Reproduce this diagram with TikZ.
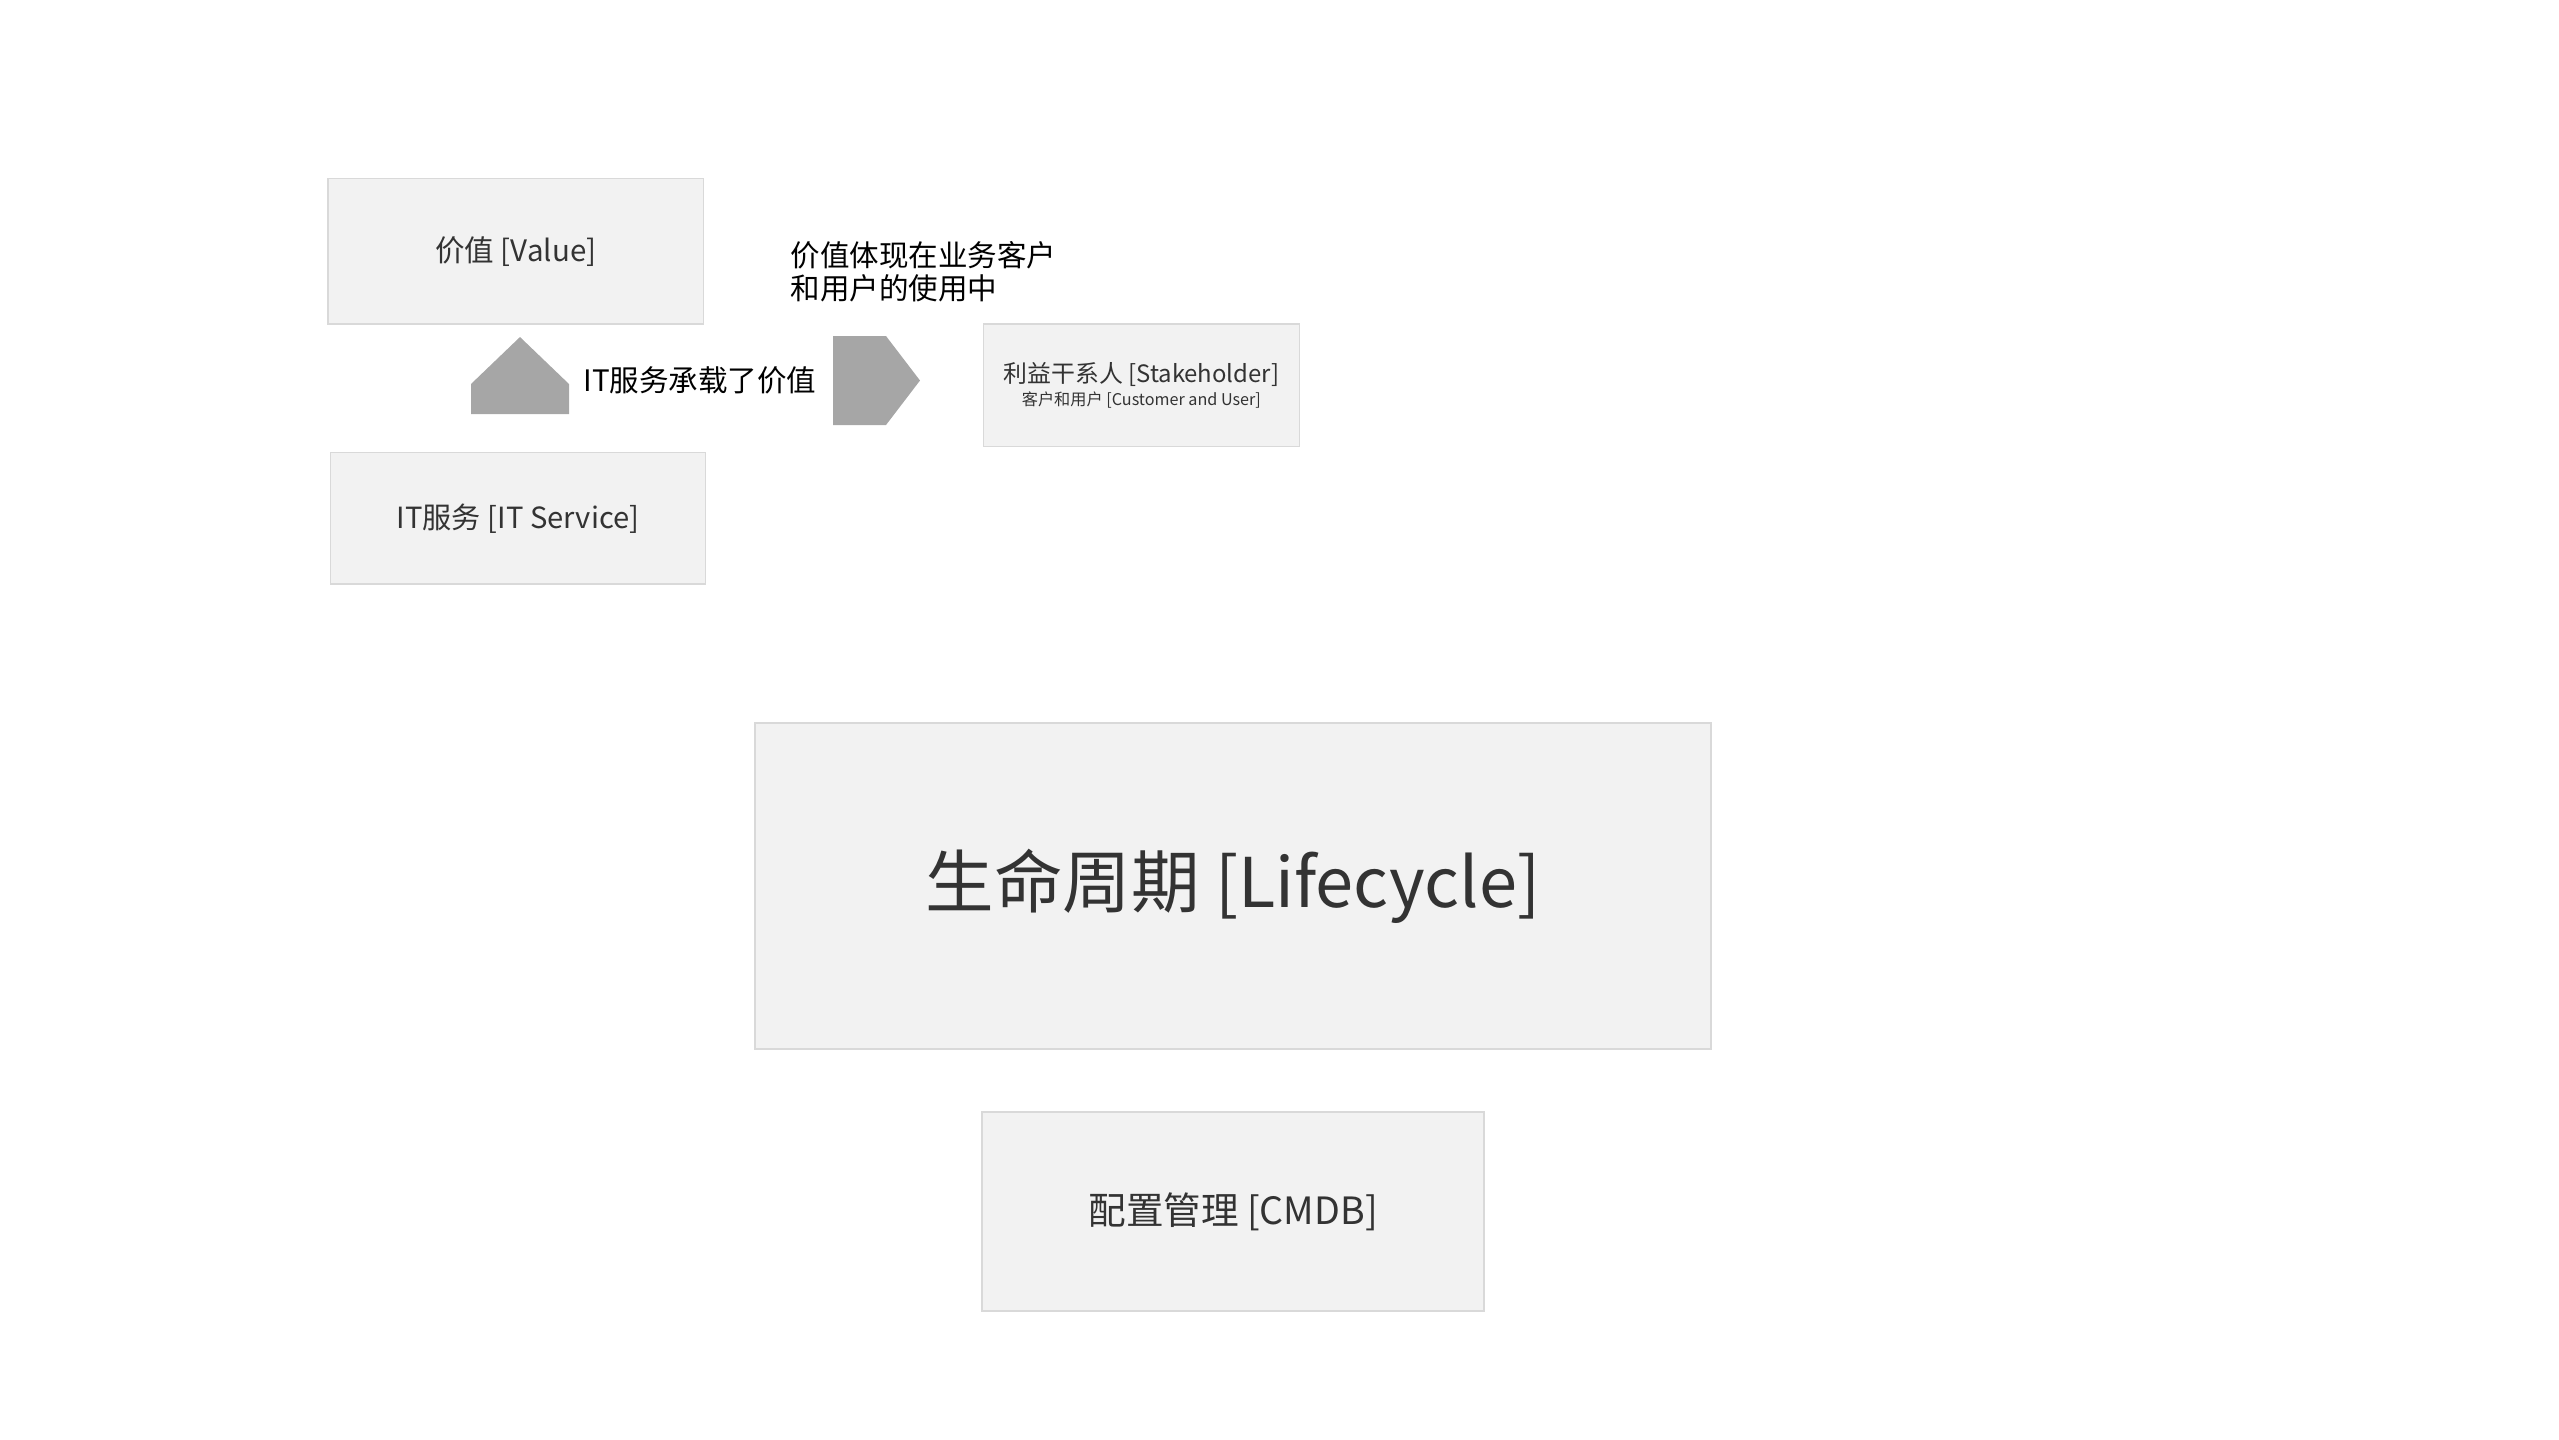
\documentclass[tikz,border=0pt]{standalone}
\usepackage{fontspec}
\setmainfont{Noto Sans CJK SC}
\usetikzlibrary{positioning}
\definecolor{boxfill}{HTML}{F2F2F2}
\definecolor{boxline}{HTML}{D9D9D9}
\definecolor{arrowgray}{HTML}{A6A6A6}
\definecolor{labelgray}{HTML}{333333}
\newcommand\Fs[1]{\fontsize{#1}{1.2\dimexpr#1pt\relax}\selectfont}

\begin{document}
\begin{tikzpicture}
\useasboundingbox (0,0) rectangle (25.59,-14.39);
\begin{scope}[inner sep=0pt,align=center]%
\tikzstyle{every node}=[draw=boxline,fill=boxfill,text=labelgray,line width=.4pt] %%
\node[minimum width=3.755cm,minimum height=1.454cm,font=\Fs{8.4}] (value) at (5.158,-2.514) {价值 [Value]}; %%
\node[minimum width=3.75cm,minimum height=1.315cm,font=\Fs{8.3}] (itsvc) at (5.18,-5.184) {IT服务 [IT Service]}; %%
\node[minimum width=3.164cm,minimum height=1.225cm] (stake) at (11.414,-3.854) {{\Fs{6.8}利益干系人 [Stakeholder]}\\[-5.6pt]{\Fs{4.6}客户和用户 [Customer and User]}}; %%
\node[minimum width=9.56cm,minimum height=3.26cm,font=\Fs{19.5}] (life) at (12.33,-8.86) {生命周期 [Lifecycle]}; %%
\node[minimum width=5.02cm,minimum height=1.99cm,font=\Fs{10.7}] (cmdb) at (12.331,-12.115) {配置管理 [CMDB]}; %%
\end{scope}
\node[font=\Fs{8.4}] (carry) at (7.00,-3.80) {IT服务承载了价值}; %%
\node[font=\fontsize{8.4}{9.4}\selectfont,anchor=west,align=left,inner sep=0pt] (usage) at (7.90,-2.72) {价值体现在业务客户\\和用户的使用中}; %%
% block arrows
\fill[arrowgray] (4.71,-4.14)--(4.71,-3.84)--(5.20,-3.37)--(5.69,-3.84)--(5.69,-4.14)--cycle;
\fill[arrowgray] (8.33,-3.36)--(8.86,-3.36)--(9.20,-3.805)--(8.86,-4.25)--(8.33,-4.25)--cycle;
\end{tikzpicture}
\end{document}
